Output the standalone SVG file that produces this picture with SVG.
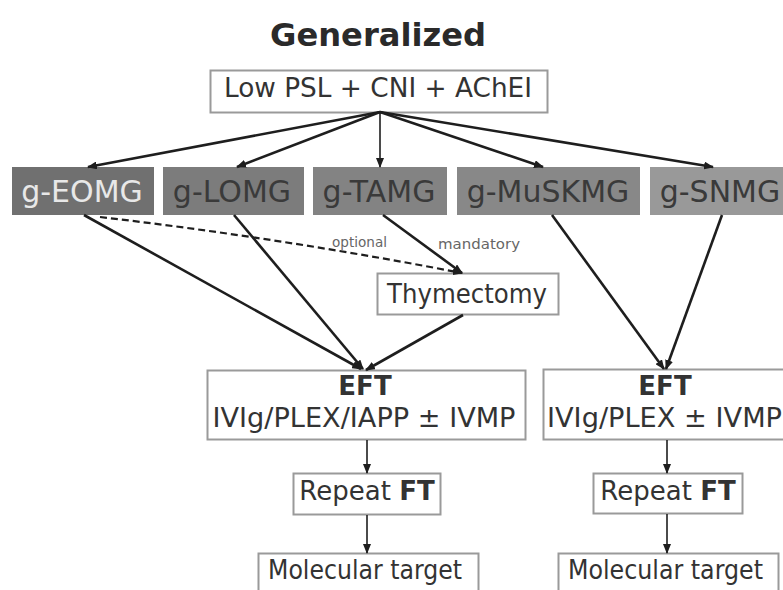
<svg xmlns="http://www.w3.org/2000/svg" width="783" height="590" viewBox="0 0 783 590">
  <defs>
    <marker id="arrow" markerUnits="userSpaceOnUse" markerWidth="10" markerHeight="8" refX="9" refY="4" orient="auto">
      <path d="M0,0 L10,4 L0,8 z" fill="#1e1e1e"/>
    </marker>
    <style>
      text { font-family: "DejaVu Sans", Verdana, sans-serif; }
      .box { fill: #ffffff; stroke: #9a9a9a; stroke-width: 2; }
      .lbl { font-size: 26px; fill: #333333; text-anchor: middle; }
      .grp text { font-size: 30px; text-anchor: middle; fill: #3a3a3a; }
      .edge { fill: none; stroke: #1e1e1e; stroke-width: 2.6; marker-end: url(#arrow); }
      .thin { stroke-width: 1.6; }
      .dash { stroke-dasharray: 7 4; stroke-width: 2.2; }
      .note { font-size: 14px; fill: #666666; }
    </style>
  </defs>

  <rect width="783" height="590" fill="#ffffff"/>

  <text id="title" x="378" y="46" text-anchor="middle" font-size="32" font-weight="bold" fill="#2a2a2a" textLength="216" lengthAdjust="spacingAndGlyphs">Generalized</text>

  <g id="start">
    <rect class="box" x="210.5" y="70.5" width="337" height="42"/>
    <text class="lbl" x="378" y="97" textLength="308" lengthAdjust="spacingAndGlyphs">Low PSL + CNI + AChEI</text>
  </g>

  <!-- subtype row -->
  <g id="g-eomg" class="grp">
    <rect x="12" y="167" width="142" height="48" fill="#707070"/>
    <text x="82" y="202" style="fill:#e8e8e8">g-EOMG</text>
  </g>
  <g id="g-lomg" class="grp">
    <rect x="163" y="167" width="141" height="48" fill="#7c7c7c"/>
    <text x="232" y="202">g-LOMG</text>
  </g>
  <g id="g-tamg" class="grp">
    <rect x="313" y="167" width="134" height="48" fill="#838383"/>
    <text x="379" y="202">g-TAMG</text>
  </g>
  <g id="g-muskmg" class="grp">
    <rect x="457" y="167" width="183" height="48" fill="#888888"/>
    <text x="548" y="202">g-MuSKMG</text>
  </g>
  <g id="g-snmg" class="grp">
    <rect x="650" y="167" width="140" height="48" fill="#999999"/>
    <text x="720" y="202">g-SNMG</text>
  </g>

  <g id="thymectomy">
    <rect class="box" x="377.5" y="273.5" width="181" height="41"/>
    <text class="lbl" x="467" y="303" font-size="27" textLength="160" lengthAdjust="spacingAndGlyphs">Thymectomy</text>
  </g>

  <g id="eft-left">
    <rect class="box" x="207.5" y="370.5" width="318" height="69"/>
    <text class="lbl" x="365" y="395" font-size="23" font-weight="bold">EFT</text>
    <text class="lbl" x="364" y="427" font-size="26" textLength="303" lengthAdjust="spacingAndGlyphs">IVIg/PLEX/IAPP ± IVMP</text>
  </g>
  <g id="eft-right">
    <rect class="box" x="543.5" y="369.5" width="244" height="70"/>
    <text class="lbl" x="665" y="395" font-size="23" font-weight="bold">EFT</text>
    <text class="lbl" x="664.5" y="427" font-size="26" textLength="235" lengthAdjust="spacingAndGlyphs">IVIg/PLEX ± IVMP</text>
  </g>

  <g id="repeat-left">
    <rect class="box" x="293.5" y="473.5" width="147" height="41"/>
    <text class="lbl" x="367" y="500" font-size="24">Repeat <tspan font-weight="bold">FT</tspan></text>
  </g>
  <g id="repeat-right">
    <rect class="box" x="593.5" y="473.5" width="149" height="40"/>
    <text class="lbl" x="668" y="500" font-size="24">Repeat <tspan font-weight="bold">FT</tspan></text>
  </g>

  <g id="target-left">
    <rect class="box" x="258.5" y="553.5" width="220" height="45"/>
    <text class="lbl" x="365" y="579" textLength="194" lengthAdjust="spacingAndGlyphs">Molecular target</text>
  </g>
  <g id="target-right">
    <rect class="box" x="558.5" y="553.5" width="220" height="45"/>
    <text class="lbl" x="665.5" y="579" textLength="195" lengthAdjust="spacingAndGlyphs">Molecular target</text>
  </g>

  <g id="connectors">
    <path class="edge" d="M380,112 L88,167"/>
    <path class="edge" d="M380,112 L237,167"/>
    <path class="edge thin" d="M380,112 L380,167"/>
    <path class="edge" d="M380,112 L543,167"/>
    <path class="edge" d="M380,112 L713,167"/>

    <path class="edge" d="M84,215 L361,369"/>
    <path class="edge" d="M234,215 L363,369"/>
    <path class="edge dash" d="M100,217 Q280,238 462,273"/>
    <path class="edge" d="M383,215 L462,273"/>
    <path class="edge" d="M463,315 L366,370"/>

    <path class="edge" d="M552,215 L664,369"/>
    <path class="edge" d="M722,215 L666,369"/>

    <path class="edge thin" d="M367,440 L367,473"/>
    <path class="edge thin" d="M367,515 L367,553"/>
    <path class="edge thin" d="M667,440 L667,473"/>
    <path class="edge thin" d="M667,514 L667,553"/>

    <text class="note" x="332" y="247" textLength="55" lengthAdjust="spacingAndGlyphs">optional</text>
    <text class="note" x="438" y="249" textLength="82" lengthAdjust="spacingAndGlyphs">mandatory</text>
  </g>
</svg>
